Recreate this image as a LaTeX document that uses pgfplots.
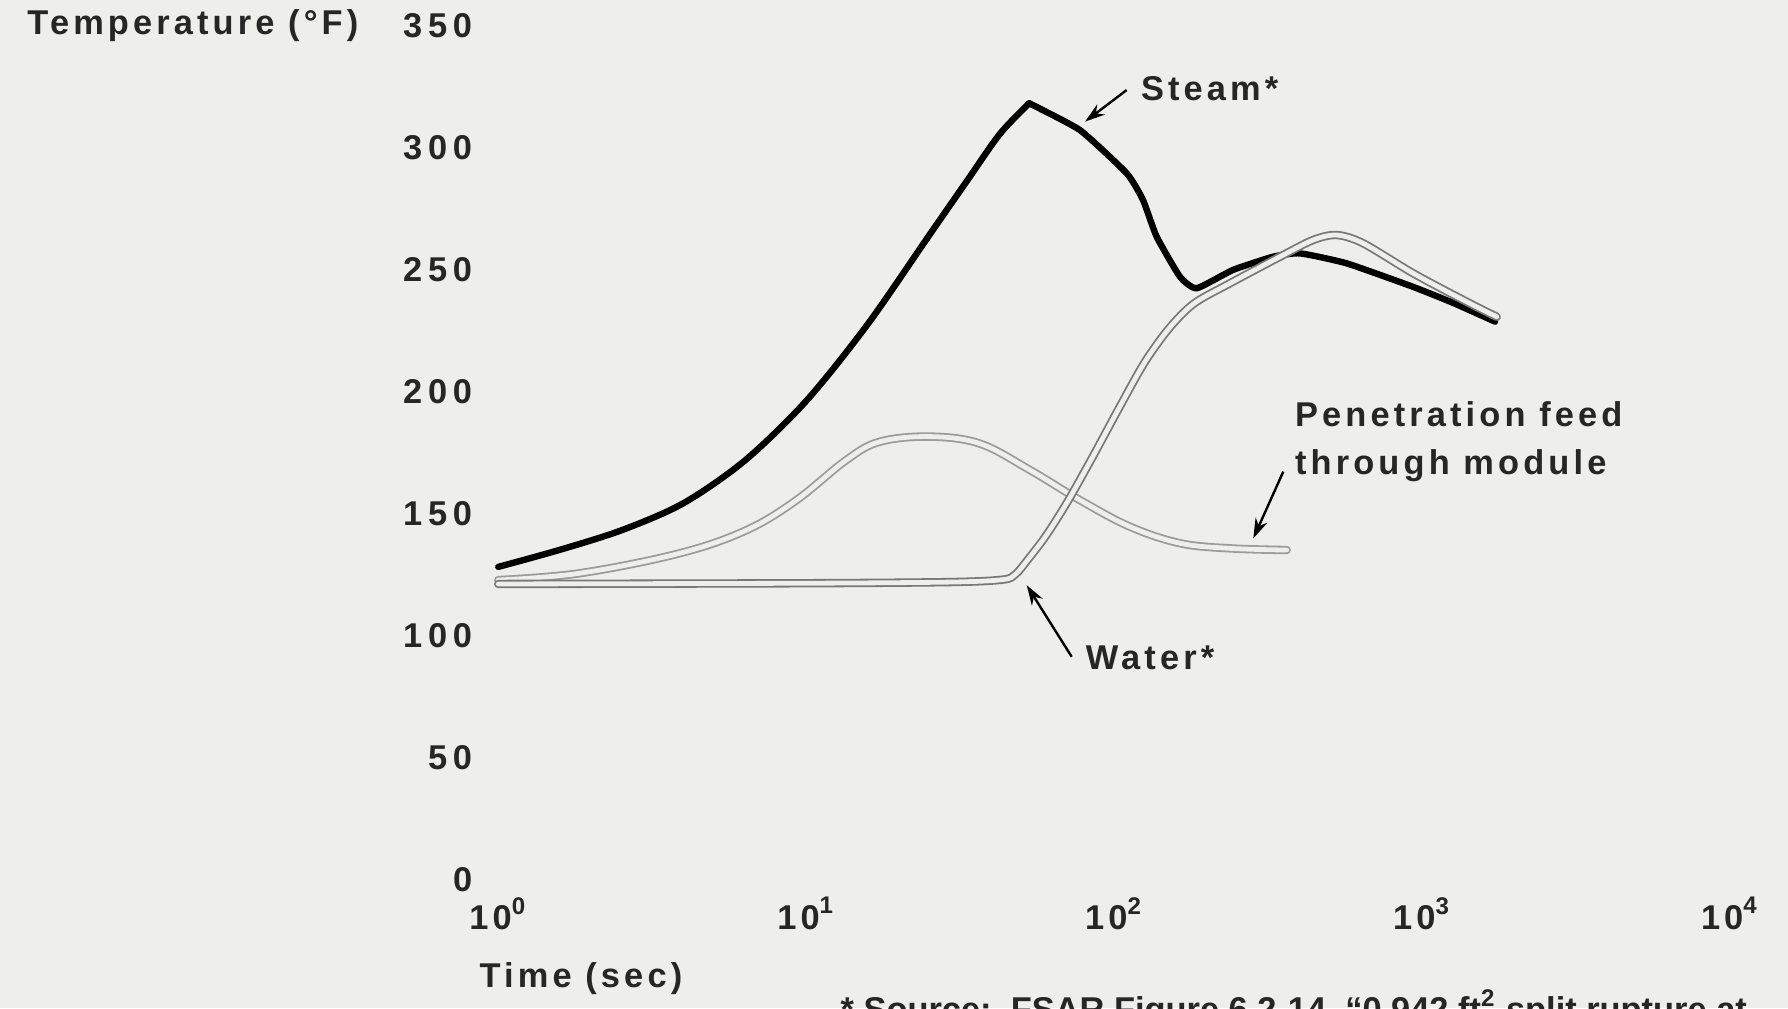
\documentclass[border=0pt]{standalone}
\usepackage{pgfplots}
\pgfplotsset{compat=1.18}
\usepackage{fontspec}
\setmainfont{Liberation Sans}[LetterSpace=12]
\newfontfamily\tickfont{Liberation Sans}[LetterSpace=17]
\newfontfamily\footfont{Liberation Sans}[LetterSpace=0]
\usetikzlibrary{arrows.meta}
\definecolor{bgc}{RGB}{238,238,236}
\definecolor{txt}{RGB}{38,38,38}
\definecolor{wat}{RGB}{120,120,120}
\definecolor{pen}{RGB}{155,155,155}
\begin{document}
\begin{tikzpicture}[font=\fontsize{8.6}{12}\selectfont\bfseries, text=txt]
\fill[bgc] (-124.575pt,-32.2pt) rectangle (322.425pt,219.8pt);
\begin{axis}[
  scale only axis, width=307.9pt, height=213.5pt,
  xmode=log, xmin=1, xmax=10000, ymin=0, ymax=350,
  axis line style={draw=none}, major tick length=0pt, minor tick length=0pt,
  xtick={1,10,100,1000,10000}, minor xtick={},
  xticklabels={10\textsuperscript{0},10\textsuperscript{1},10\textsuperscript{2},10\textsuperscript{3},10\textsuperscript{4}},
  ytick={0,50,100,150,200,250,300,350},
  yticklabels={0,50,100,150,200,250,300,350},
  xticklabel style={font=\fontsize{8.6}{12}\selectfont\bfseries, text=txt, yshift=-1pt},
  yticklabel style={font=\tickfont\fontsize{8.6}{12}\selectfont\bfseries, text=txt, xshift=-3pt},
  clip=false,
]
% Steam
\addplot[black, line width=1.6pt, smooth, tension=0.5, line cap=round, line join=round] coordinates {
(1,128) (1.585,135) (2.512,143) (3.981,154) (6.310,171.5) (10,196) (15.85,227.5)
(25.12,264) (33.2,286) (42.6,305.5) (53.0,318.0)};
\addplot[black, line width=1.6pt, smooth, tension=0.3, line cap=round, line join=round] coordinates {
(53.0,318.0) (77.5,307.0) (109.9,289.3) (124.1,278.4) (137.5,263.3) (163.7,246.9)
(185.5,242.2) (243.2,249.7) (328,255.1) (401.6,256.5) (569.4,252.4) (934,242.8)
(1262,236.2) (1727,228.5)};
% Penetration feed through module
\addplot[draw=pen, line width=0.45pt, double=bgc, double distance=1.2pt, smooth, tension=0.6, line cap=round] coordinates {
(1,122.6) (1.84,125.4) (3.89,133.6) (6.41,143.1) (9.31,155.4) (13.5,171.8)
(17.35,179.3) (25.2,181.4) (36.7,178.5) (53.3,167.7) (77.4,155.4) (112.5,144.5)
(163.7,137.7) (237.6,135.6) (363.6,134.9)};
% Water
\addplot[draw=wat, line width=0.45pt, double=bgc, double distance=1.2pt, smooth, tension=0.5, line cap=round] coordinates {
(1,121.0) (10,121.3) (30,121.8) (43.65,122.8) (47.86,125) (52.48,131) (60.26,141)
(70.79,155) (85.11,173) (104.7,194) (125.9,212) (151.4,226) (182.0,236)
(237.6,244.2) (345.6,255.1) (443.6,262) (528.7,264) (644.7,260.6) (937,248.3)
(1361,237.4) (1749,230.5)};
\end{axis}
% labels
\node[anchor=east, inner sep=0pt] at (-34.8pt,213.5pt) {Temperature (°F)};
\node[anchor=west, inner sep=0pt] at (-4.85pt,-24.8pt) {Time (sec)};
\node[anchor=west, inner sep=0pt] at (160.5pt,197.6pt) {Steam*};
\node[anchor=west, align=left, inner sep=0pt] at (199pt,109.5pt) {Penetration feed\\through module};
\node[anchor=west, inner sep=0pt] at (146.7pt,55.3pt) {Water*};
\node[anchor=base west, inner sep=0pt, font=\footfont\fontsize{8.6}{12}\selectfont\bfseries] at (85.4pt,-35.6pt) {* Source:\ \ FSAR Figure 6.2-14, “0.942 ft\textsuperscript{2} split rupture at};
% arrows
\draw[black, line width=0.6pt, -{Stealth[length=5pt,width=3.2pt]}] (157.1pt,197.3pt) -- (146.7pt,189.4pt);
\draw[black, line width=0.6pt, -{Stealth[length=5pt,width=3.2pt]}] (196.25pt,101.9pt) -- (188.75pt,85.2pt);
\draw[black, line width=0.6pt, -{Stealth[length=5pt,width=3.2pt]}] (143.35pt,55.6pt) -- (132.1pt,73.5pt);
\pgfresetboundingbox
\useasboundingbox (-124.575pt,-32.2pt) rectangle (322.425pt,219.8pt);
\end{tikzpicture}
\end{document}
